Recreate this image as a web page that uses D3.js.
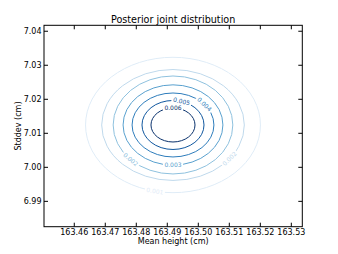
<!DOCTYPE html>
<html><head><meta charset="utf-8">
<script src="https://cdn.jsdelivr.net/npm/d3@7"></script>
<style>body{margin:0;background:#fff}svg{display:block}text{font-family:"DejaVu Sans",sans-serif}</style>
</head><body><svg id="c" width="338" height="254"></svg>
<script>
// Data
const xTicks = [163.46,163.47,163.48,163.49,163.50,163.51,163.52,163.53];
const yTicks = [6.99,7.00,7.01,7.02,7.03,7.04];
const xDomain = [163.4504, 163.5337];
const yDomain = [6.9824, 7.0416];
const levels = [0.0008,0.0016,0.0024,0.0032,0.0040,0.0048,0.0056];
const centerX = [163.4920,163.4920,163.4920,163.4920,163.4920,163.4920,163.4920];
const centerY = [7.0123,7.0123,7.0123,7.0123,7.0123,7.0123,7.0123];
const radiusX = [0.0282,0.0230,0.0193,0.0161,0.0132,0.0100,0.0071];
const radiusY = [0.0199,0.0163,0.0144,0.0118,0.0094,0.0072,0.0050];
const labelAngle = [102,37.5,135,90,-40,-74,-90]; // position along each contour (deg)

const svg = d3.select("#c");
const L=44, R=302.3, T=25.3, B=226.7;
const x = d3.scaleLinear(xDomain,[L,R]);
const y = d3.scaleLinear(yDomain,[B,T]);
const color = d3.scaleSequential(t=>d3.interpolateBlues(0.12+0.88*t)).domain([levels[0],levels[levels.length-1]]);
const fmt = d3.format(".3f");

const defs = svg.append("defs");
const g = svg.append("g");
levels.forEach((lv,i)=>{
  const cx=x(centerX[i]), cy=y(centerY[i]);
  const rx=x(centerX[i]+radiusX[i])-cx, ry=y(centerY[i])-y(centerY[i]+radiusY[i]);
  const t=labelAngle[i]*Math.PI/180;
  const px=cx+rx*Math.cos(t), py=cy+ry*Math.sin(t);
  let ang=Math.atan2(ry*Math.cos(t), -rx*Math.sin(t))*180/Math.PI;
  if(ang>90) ang-=180; if(ang<-90) ang+=180;
  const col=color(lv);
  const txt=g.append("text").attr("x",px).attr("y",py).attr("dy","0.35em")
    .attr("text-anchor","middle").attr("font-size",6).attr("fill",col)
    .attr("transform",`rotate(${ang},${px},${py})`).text(fmt(lv));
  const w=txt.node().getComputedTextLength()+3;
  const m=defs.append("mask").attr("id","m"+i).attr("maskUnits","userSpaceOnUse")
    .attr("x",0).attr("y",0).attr("width",338).attr("height",254);
  m.append("rect").attr("width",338).attr("height",254).attr("fill","#fff");
  m.append("rect").attr("x",px-w/2).attr("y",py-4).attr("width",w).attr("height",8)
    .attr("fill","#000").attr("transform",`rotate(${ang},${px},${py})`);
  g.insert("ellipse","text").attr("cx",cx).attr("cy",cy).attr("rx",rx).attr("ry",ry)
    .attr("fill","none").attr("stroke",col).attr("stroke-width",1).attr("mask",`url(#m${i})`);
});

// frame and ticks
svg.append("rect").attr("x",L).attr("y",T).attr("width",R-L).attr("height",B-T)
  .attr("fill","none").attr("stroke","#000").attr("stroke-width",1);
const xa=svg.append("g").attr("transform",`translate(0,${B})`)
  .call(d3.axisBottom(x).tickValues(xTicks).tickFormat(d3.format(".2f")).tickSizeInner(-4).tickSizeOuter(0).tickPadding(2.5));
const xt=svg.append("g").attr("transform",`translate(0,${T})`)
  .call(d3.axisTop(x).tickValues(xTicks).tickFormat("").tickSizeInner(-4).tickSizeOuter(0));
const ya=svg.append("g").attr("transform",`translate(${L},0)`)
  .call(d3.axisLeft(y).tickValues(yTicks).tickFormat(d3.format(".2f")).tickSizeInner(-4).tickSizeOuter(0).tickPadding(2.5));
const yr=svg.append("g").attr("transform",`translate(${R},0)`)
  .call(d3.axisRight(y).tickValues(yTicks).tickFormat("").tickSizeInner(-4).tickSizeOuter(0));
[xa,xt,ya,yr].forEach(a=>{a.select(".domain").remove();a.selectAll("text").attr("font-size",8).attr("fill","#000").style("font-family","DejaVu Sans");a.selectAll("line").attr("stroke","#000");});

svg.append("text").attr("x",(L+R)/2).attr("y",22.5).attr("text-anchor","middle").attr("font-size",9.6).text("Posterior joint distribution");
svg.append("text").attr("x",(L+R)/2).attr("y",244).attr("text-anchor","middle").attr("font-size",8).text("Mean height (cm)");
svg.append("text").attr("transform",`translate(21,${(T+B)/2}) rotate(-90)`).attr("text-anchor","middle").attr("font-size",8).text("Stddev (cm)");
</script></body></html>
